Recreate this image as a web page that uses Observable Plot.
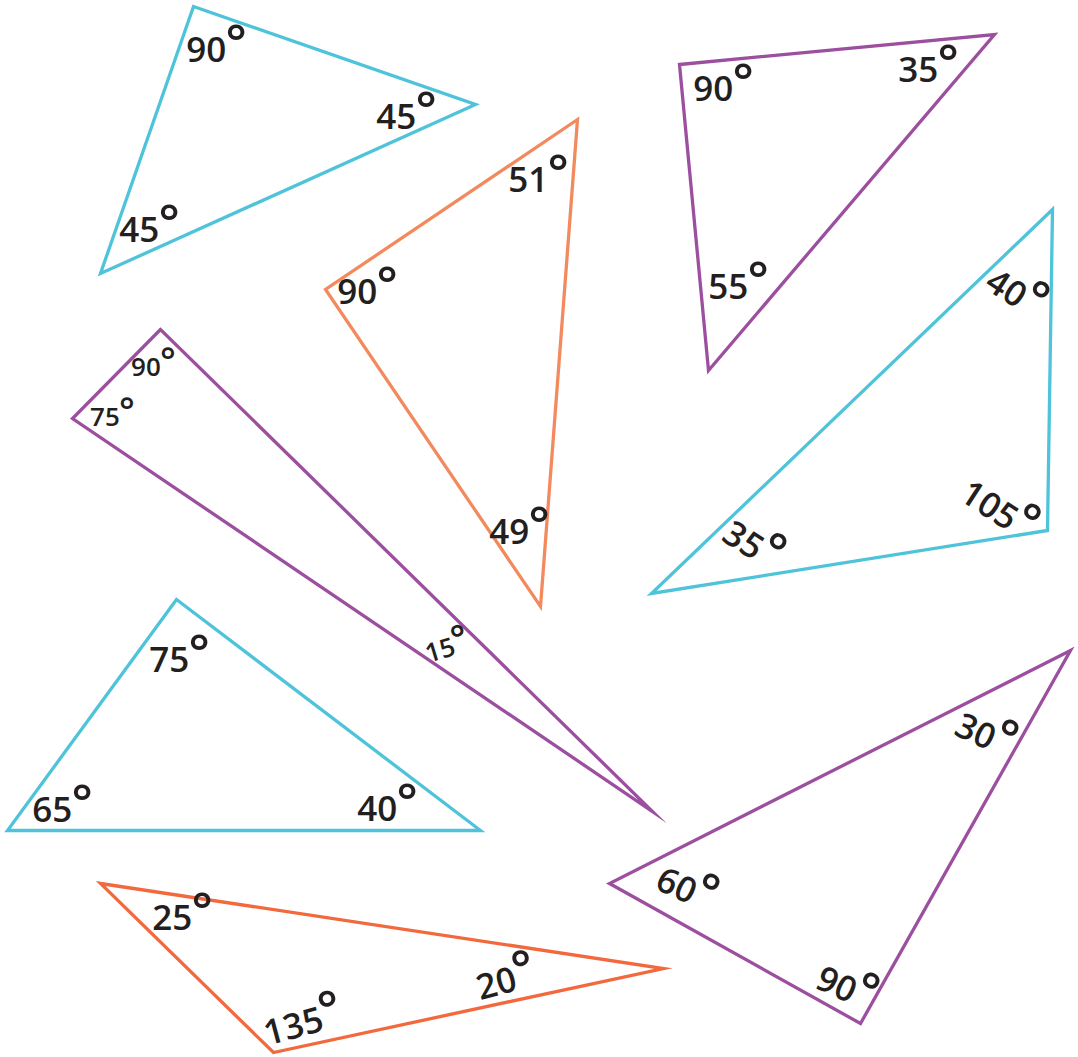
<!DOCTYPE html>
<html>
<head>
<meta charset="utf-8">
<script src="https://cdn.jsdelivr.net/npm/d3@7"></script>
<script src="https://cdn.jsdelivr.net/npm/@observablehq/plot@0.6"></script>
<style>
html, body { margin: 0; padding: 0; background: #fff; }
#chart svg { display: block; }
</style>
</head>
<body>
<div id="chart"></div>
<script>
// Triangles (vertex coordinates in picture units)
const triangleNames = ["t1", "t2", "t3", "t4", "t5", "t6", "t7", "t8"];
const triangleColors = ["#4ec3d9", "#f28a5e", "#9c4f9f", "#4ec3d9", "#9c4f9f", "#4ec3d9", "#9c4f9f", "#f2693e"];
const vertexX = [
  [193, 475, 100],
  [577, 325, 540],
  [679, 994, 708],
  [1052, 1047, 651],
  [160, 72, 652],
  [176, 7, 480],
  [1070, 609, 860],
  [100, 663, 273]
];
const vertexY = [
  [6, 104, 273],
  [119, 289, 606],
  [64, 34, 370],
  [209, 530, 593],
  [329, 418, 811],
  [599, 830, 830],
  [650, 883, 1023],
  [883, 968, 1052]
];

// Angle labels
const labelAngle  = [90, 45, 45,   51, 90, 49,   90, 35, 55,   40, 105, 35,   90, 75, 15,   75, 65, 40,   30, 60, 90,   25, 20, 135];
const labelX      = [216, 406, 149, 538, 367, 519, 723, 928, 738, 1014, 997, 751, 153, 112, 447, 179, 62, 387, 984, 685, 845, 182, 506, 303];
const labelY      = [50, 117, 230, 180, 292, 532, 89, 70, 287, 294, 511, 546, 367, 417, 648, 660, 810, 809, 736, 890, 989, 918, 981, 1024];
const labelRotate = [0, 0, 0,   0, 0, 0,   0, 0, 0,   33, 33, 33,   0, 0, -17,   0, 0, 0,   25, 25, 25,   0, -15, -15];
const labelSmall  = [false, false, false, false, false, false, false, false, false, false, false, false, true, true, true, false, false, false, false, false, false, false, false, false];

const outline = [];
vertexX.forEach((xs, t) => {
  xs.forEach((x, i) => outline.push({tri: triangleNames[t], x, y: vertexY[t][i], color: triangleColors[t]}));
});

const labels = labelAngle.map((a, i) => ({
  text: `${a}°`, x: labelX[i], y: labelY[i], rotate: labelRotate[i], small: labelSmall[i]
}));

const chart = Plot.plot({
  width: 1078,
  height: 1057,
  margin: 0,
  x: {domain: [0, 1078], range: [0, 1078], axis: null},
  y: {domain: [0, 1057], range: [0, 1057], axis: null},
  color: {type: "identity"},
  style: {background: "#fff", fontFamily: "'Open Sans', sans-serif"},
  marks: [
    Plot.line(outline, {
      x: "x", y: "y", z: "tri", stroke: "color",
      strokeWidth: 3.3, strokeLinejoin: "miter", strokeMiterlimit: 12,
      curve: "linear-closed"
    }),
    Plot.text(labels.filter(d => !d.small), {
      x: "x", y: "y", text: "text", rotate: "rotate",
      fontSize: 35, fontWeight: 600, fill: "#231f20",
      textAnchor: "middle", lineAnchor: "middle"
    }),
    Plot.text(labels.filter(d => d.small), {
      x: "x", y: "y", text: "text", rotate: "rotate",
      fontSize: 26, fontWeight: 600, fill: "#231f20",
      textAnchor: "middle", lineAnchor: "middle"
    })
  ]
});

// Render the degree sign as a larger raised ring, as in the original artwork
chart.querySelectorAll('g[aria-label="text"] text').forEach(t => {
  const s = t.textContent;
  if (!s.endsWith("°")) return;
  t.textContent = s.slice(0, -1);
  const ts = document.createElementNS("http://www.w3.org/2000/svg", "tspan");
  ts.setAttribute("font-size", "1.42em");
  ts.setAttribute("font-weight", "600");
  ts.setAttribute("dy", "-0.04em");
  ts.setAttribute("dx", "-0.02em");
  ts.textContent = "°";
  t.appendChild(ts);
});

document.getElementById("chart").appendChild(chart);
</script>
</body>
</html>
